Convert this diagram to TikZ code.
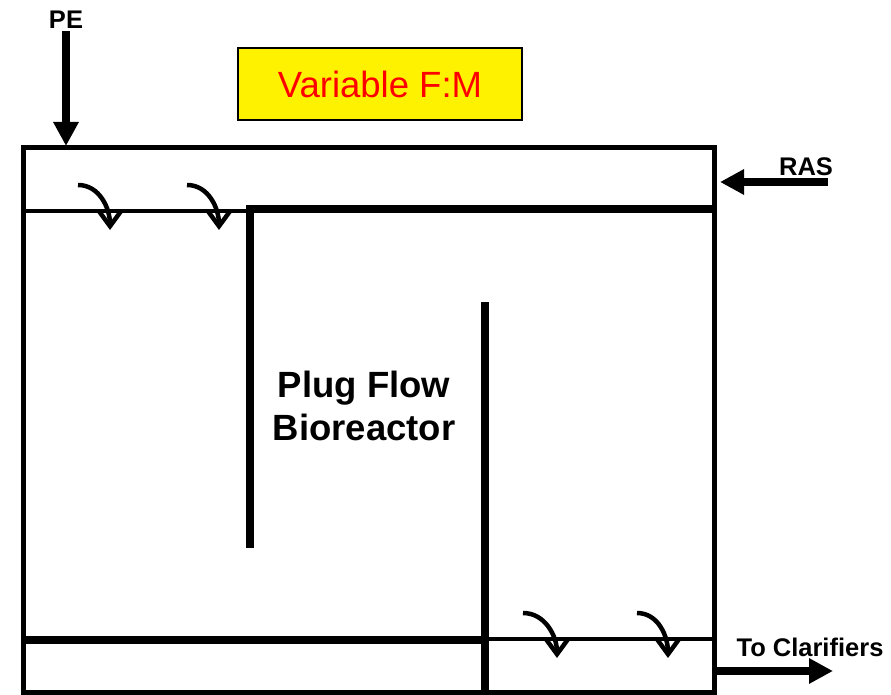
\documentclass[tikz,border=0pt]{standalone}
\usepackage{fontspec}
\setmainfont{Liberation Sans}
\usepackage{tikz}
\usetikzlibrary{arrows.meta,positioning}

\begin{document}
\begin{tikzpicture}[x=1pt, y=-1pt,
  wall/.style={line width=5pt},
  baffle/.style={line width=8pt},
  level/.style={line width=3.5pt},
  flow/.style={line width=8pt, -{Triangle[length=24pt,width=24pt]}},
  curl/.style={line width=4.5pt, -{Straight Barb[length=15pt,width=22pt]}},
  lbl/.style={font=\fontsize{25.5}{30}\selectfont\bfseries, inner sep=0pt}]
\useasboundingbox (0,0) rectangle (891,695);

% tank and baffles
\draw[wall] (23,148) rectangle (714,692);
\draw[level] (23,211) -- (250,211);
\draw[baffle] (714,209) -| (250,548);
\draw[baffle] (485,302) -- (485,692);
\draw[baffle] (23,640) -- (485,640);
\draw[level] (485,639) -- (714,639);

% over/under flow
\foreach \x in {78,187}
  \draw[curl] (\x,185) to[out=0,in=90] ++(32,45);
\draw[curl] (523,613) to[out=0,in=90] (557,658);
\draw[curl] (637,613) to[out=0,in=90] (668,658);

\node[draw, fill=yellow, line width=1.5pt, minimum width=284pt, minimum height=72pt,
  text=red, font=\fontsize{36.5}{43}\selectfont] (fm) at (380,84) {Variable F:M};
\node[font=\fontsize{36.5}{43}\selectfont\bfseries, align=center] (pfb) at (364,406) {Plug Flow\\Bioreactor};

% streams
\node[lbl] (pe) at (66,19.5) {PE};
\coordinate (pein) at (66,146);
\draw[flow] ([yshift=-3pt]pe.south) -- (pein);

\node[lbl] (ras) at (806,166.5) {RAS};
\coordinate (rasin) at (720,182);
\coordinate (rasout) at (828,182);
\draw[flow, line width=7.5pt] (rasout) -- (rasin);

\node[lbl] (clar) at (810,647.5) {To Clarifiers};
\coordinate (outlet) at (714,671);
\coordinate (outend) at (833,671);
\draw[flow] (outlet) -- (outend);
\end{tikzpicture}
\end{document}
